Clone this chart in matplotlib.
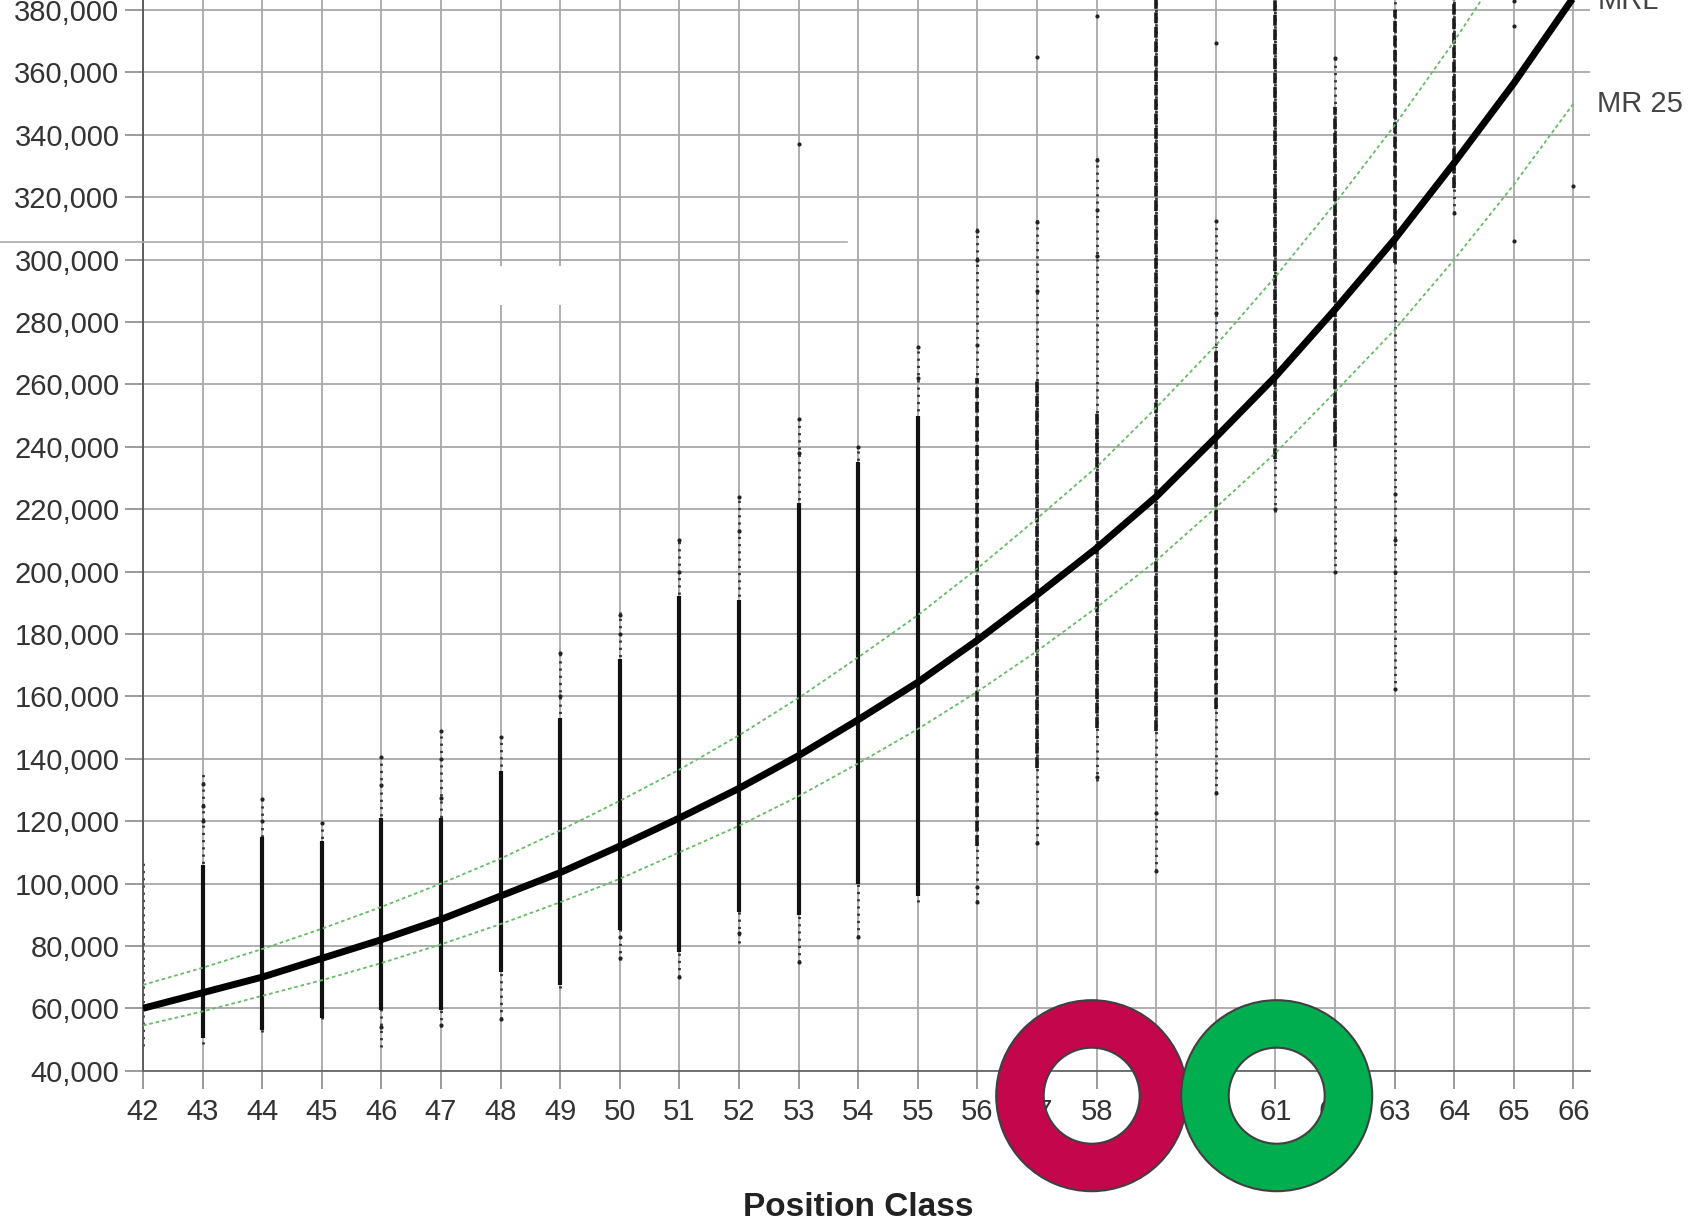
import numpy as np
import matplotlib.pyplot as plt
from matplotlib.patches import Annulus, Rectangle
from matplotlib.lines import Line2D
from matplotlib.ticker import FuncFormatter

plt.rcParams['font.family'] = ['Liberation Sans', 'DejaVu Sans']

W, H = 1708, 1226
nan = np.nan

classes = list(range(42, 67))

# reference lines
mrl = [60000, 65000, 70000, 76000, 82000, 88500, 96000, 103500, 112000, 121000,
       130500, 141000, 152500, 164500, 178000, 192500, 207500, 224000, 243000,
       262500, 284000, 306500, 331000, 356500, 384000]
mr_upper = [67500, 73000, 79000, 85500, 92500, 100000, 108000, 117000, 126500,
            136500, 147500, 159500, 172500, 186000, 201000, 217000, 233500,
            252500, 272500, 294500, 318000, 343000, 370000, 399000, 430000]
mr25 = [54500, 59000, 64000, 69000, 74500, 80500, 87000, 94000, 101500, 110000,
        118500, 128000, 138500, 149500, 161500, 174500, 188500, 203500, 220500,
        238000, 257500, 277500, 300000, 324000, 350000]

# salary columns: thin spread and dense core per position class
sparse_lo = [48000, 48500, 52500, 56500, 47500, 54000, 56500, 66500, 75500, 70000,
             81000, 75000, 83000, 94000, 94000, 113000, 133000, 104000, 129000,
             219000, 199500, 162000, 315000, nan, nan]
sparse_hi = [108000, 135000, 127000, 120000, 141000, 149000, 147000, 175000,
             187000, 210000, 224000, 250000, 240000, 272000, 310000, 314000,
             333000, 385000, 314000, 385000, 365000, 385000, 385000, nan, nan]
dense_lo = [nan, 50500, 53000, 57000, 59500, 59500, 71500, 67500, 85000, 78000,
            91000, 90000, 100000, 96000, 112000, 137000, 150000, 149000, 156000,
            236000, 240000, 299000, 323000, nan, nan]
dense_hi = [nan, 106000, 115000, 113500, 121000, 121000, 136000, 153000, 172000,
            192000, 191000, 222000, 235000, 250000, 262000, 261000, 251000,
            385000, 272000, 385000, 349000, 380000, 385000, nan, nan]

outlier_class = [43, 43, 43, 44, 44, 45, 46, 46, 46, 47, 47, 47, 47, 48, 48,
                 49, 49, 50, 50, 50, 50, 51, 51, 51, 52, 52, 52, 53, 53, 53, 53,
                 54, 54, 55, 55, 56, 56, 56, 56, 56, 57, 57, 57, 57,
                 58, 58, 58, 58, 58, 59, 59, 60, 60, 60, 60, 61, 62, 62,
                 63, 63, 63, 63, 64, 65, 65, 65, 66]
outlier_value = [120000, 125000, 132000, 120000, 127000, 119500, 131500, 140500,
                 54000, 127500, 140000, 149000, 54500, 147000, 56500, 160000,
                 174000, 180000, 186000, 83000, 76000, 200000, 210000, 70000,
                 213000, 224000, 84000, 238000, 249000, 337000, 75000, 240000,
                 83000, 262000, 272000, 272500, 300000, 309000, 99000, 94000,
                 290000, 312000, 365000, 113000, 301000, 316000, 332000, 378000,
                 134000, 122500, 104000, 283000, 312500, 369500, 129000, 220000,
                 364500, 200000, 225000, 210000, 200000, 162500, 315000, 306000,
                 375000, 383000, 323500]

y_ticks = list(range(40000, 380001, 20000))

fig = plt.figure(figsize=(W / 100, H / 100), dpi=100)
ax = fig.add_axes([143 / W, 155.3 / H, (1590 - 143) / W, 1070.7 / H])

ax.set_xlim(42, 42 + (1590 - 143) / 59.6)
ax.set_ylim(40000, 383200)
ax.set_xticks(classes)
ax.set_yticks(y_ticks)
ax.yaxis.set_major_formatter(FuncFormatter(lambda v, p: f"{int(v):,}"))
ax.grid(True, color='#a8a8a8', lw=1.3)
ax.set_axisbelow(True)
for s in ['top', 'right']:
    ax.spines[s].set_visible(False)
ax.spines['left'].set_color('#555555')
ax.spines['bottom'].set_color('#666666')
ax.spines['left'].set_linewidth(1.3)
ax.spines['bottom'].set_linewidth(1.3)
ax.tick_params(length=13, width=1.2, color='#8a8a8a', labelsize=21,
               labelcolor='#333333')
ax.tick_params(axis='y', pad=4)
ax.tick_params(axis='x', pad=7)

ax.vlines(classes, sparse_lo, sparse_hi, colors='#333333', lw=2.0,
          linestyles=[(0, (0.8, 1.8))], zorder=2)
ax.vlines(classes[:14], dense_lo[:14], dense_hi[:14], colors='#111111', lw=3.0,
          zorder=2)
ax.vlines(classes[14:], dense_lo[14:], dense_hi[14:], colors='#1a1a1a', lw=2.6,
          linestyles=[(0, (3, 1))], zorder=2)
ax.scatter(outlier_class, outlier_value, s=9, color='#222222', zorder=2, lw=0)

ax.plot(classes, mr_upper, color='#66bb66', lw=1.3, ls=(0, (2, 1.6)), zorder=3)
ax.plot(classes, mr25, color='#66bb66', lw=1.3, ls=(0, (2, 1.6)), zorder=3)
ax.plot(classes, mrl, color='black', lw=5, zorder=4, solid_capstyle='butt')

ax.text(66.4, 380300, 'MRL', fontsize=21, color='#444444', va='baseline',
        ha='left', clip_on=False)
ax.text(66.4, 350000, 'MR 25', fontsize=21, color='#444444', va='center',
        ha='left', clip_on=False)

fig.text(858 / W, 1 - 1207 / H, 'Position Class', fontsize=24,
         fontweight='bold', color='#222222', ha='center', va='center')

# overlays on the picture
fig.add_artist(Line2D([0, 846.7 / W], [1 - 242.3 / H] * 2, transform=fig.transFigure,
                      color='#ababab', lw=1.2, zorder=5))
fig.add_artist(Rectangle((464 / W, 1 - 287.3 / H), 36 / W, 21.6 / H,
                         transform=fig.transFigure, facecolor='white',
                         edgecolor='none', zorder=5))
fig.add_artist(Rectangle((500 / W, 1 - 305 / H), 62.3 / W, 39.3 / H,
                         transform=fig.transFigure, facecolor='white',
                         edgecolor='none', zorder=5))

for cx, col in [(1091.7, '#C4064C'), (1276.7, '#00AE4F')]:
    ring = Annulus((cx / 100, (H - 1095.7) / 100), 0.955, 0.475,
                   transform=fig.dpi_scale_trans, facecolor=col,
                   edgecolor='#404040', lw=1.5, zorder=6)
    fig.add_artist(ring)

fig.savefig('out.png', dpi=100)
